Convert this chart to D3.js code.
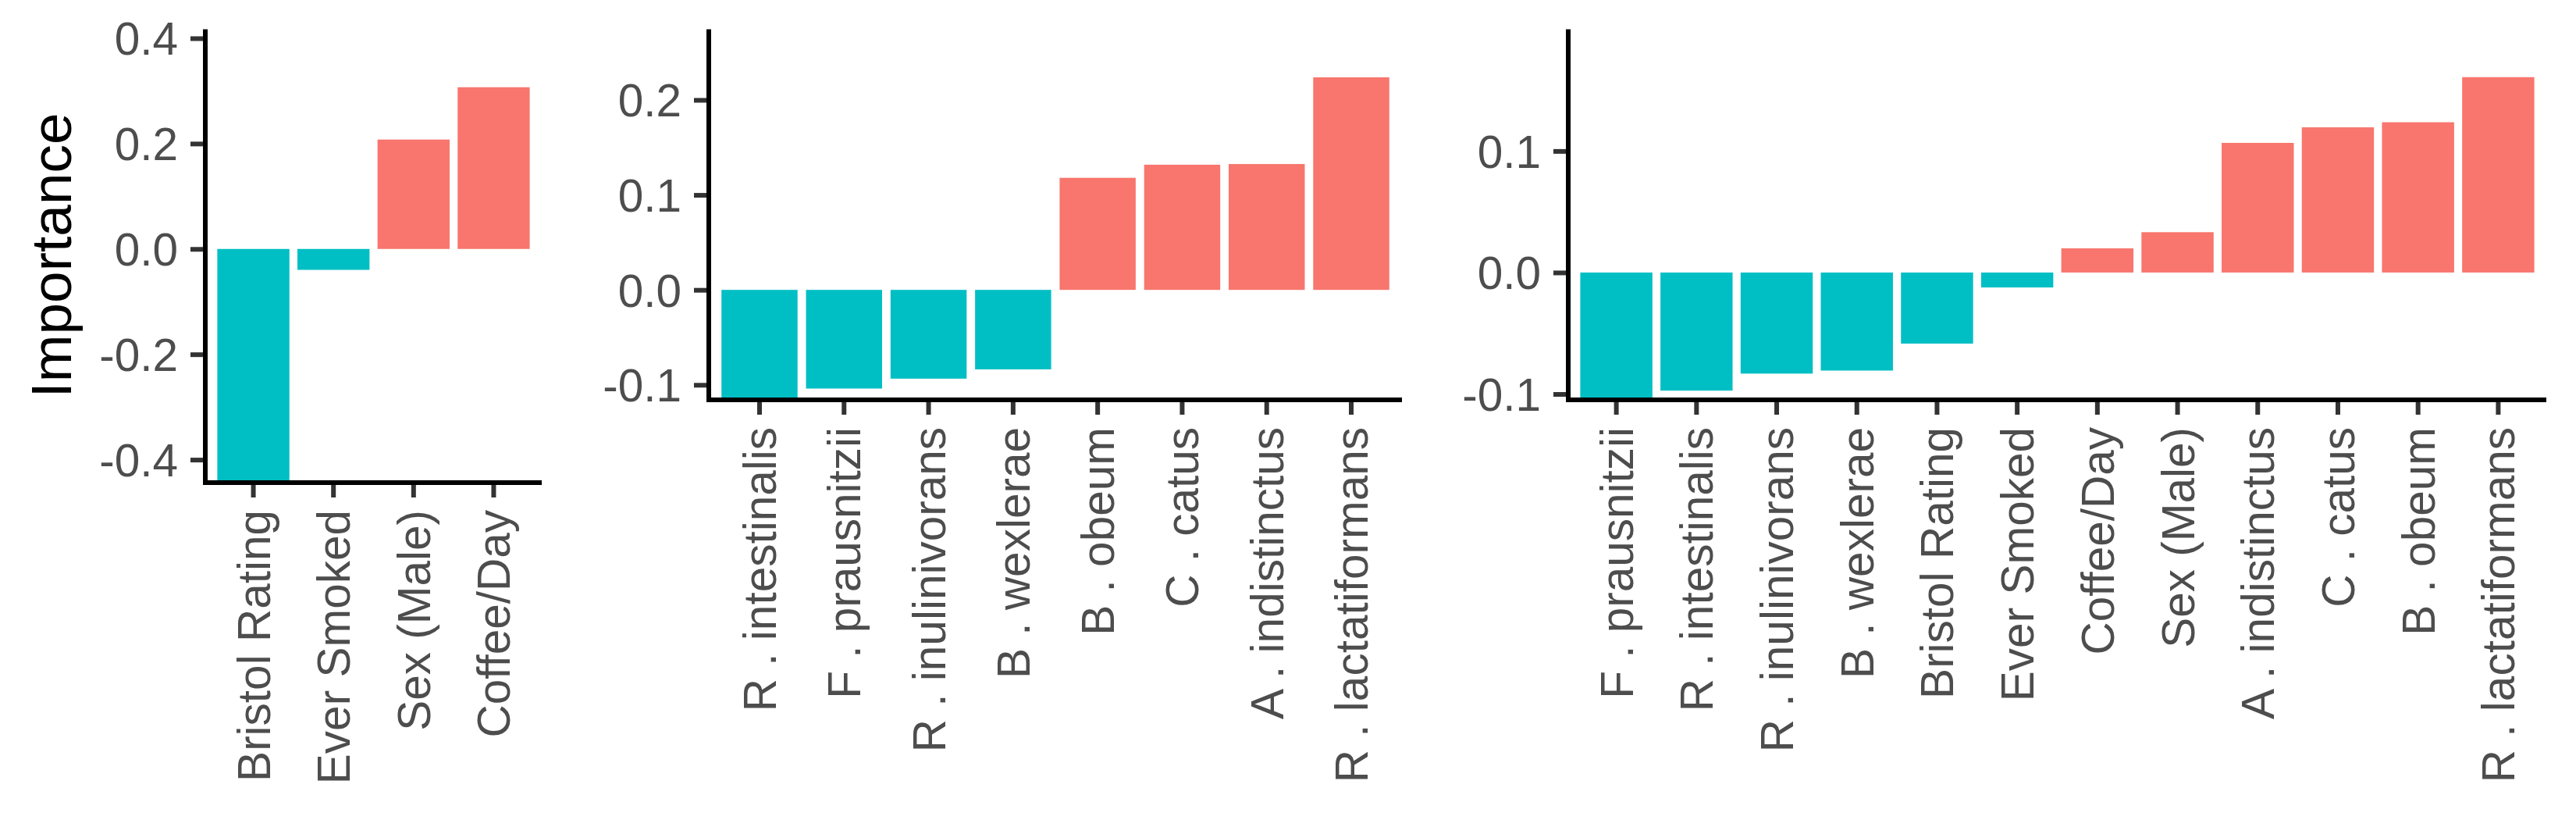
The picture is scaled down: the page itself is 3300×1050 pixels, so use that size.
<!DOCTYPE html>
<html>
<head>
<meta charset="utf-8">
<script src="https://cdn.jsdelivr.net/npm/d3@7/dist/d3.min.js"></script>
<style>
  html, body { margin: 0; padding: 0; background: #ffffff; }
  svg { display: block; }
</style>
</head>
<body>
<div id="chart"></div>
<script>
// ---------------- data ----------------
const p1Categories = ["Bristol Rating", "Ever Smoked", "Sex (Male)", "Coffee/Day"];
const p1Values = [-0.4436, -0.0397, 0.2077, 0.307];
const p1Domain = [-0.4436, 0.417];
const p1Ticks = [-0.4, -0.2, 0.0, 0.2, 0.4];

const p2Categories = ["R . intestinalis", "F . prausnitzii", "R . inulinivorans", "B . wexlerae",
  "B . obeum", "C . catus", "A . indistinctus", "R . lactatiformans"];
const p2Values = [-0.1158, -0.1039, -0.0935, -0.0837, 0.118, 0.1318, 0.1325, 0.2238];
const p2Domain = [-0.1158, 0.2744];
const p2Ticks = [-0.1, 0.0, 0.1, 0.2];

const p3Categories = ["F . prausnitzii", "R . intestinalis", "R . inulinivorans", "B . wexlerae",
  "Bristol Rating", "Ever Smoked", "Coffee/Day", "Sex (Male)", "A . indistinctus", "C . catus",
  "B . obeum", "R . lactatiformans"];
const p3Values = [-0.1048, -0.0972, -0.0832, -0.0807, -0.0585, -0.0123, 0.0199, 0.0332,
  0.1067, 0.1195, 0.1237, 0.1608];
const p3Domain = [-0.1048, 0.2002];
const p3Ticks = [-0.1, 0.0, 0.1];

const yTitle = "Importance";

// ---------------- layout / style ----------------
const W = 3300, H = 1050;
const POS = "#F8766D", NEG = "#00BFC4";
const FONT = "'Liberation Sans', Arial, Helvetica, sans-serif";
const TICK_FS = 58.5, TITLE_FS = 73;
const TICK_LEN = 19, TICK_PAD = 16;
const LINE_W = 6;

const panels = [
  { cats: p1Categories, vals: p1Values, domain: p1Domain, ticks: p1Ticks, x0: 263, x1: 694, y0: 37.5, y1: 618 },
  { cats: p2Categories, vals: p2Values, domain: p2Domain, ticks: p2Ticks, x0: 908, x1: 1796, y0: 37.5, y1: 512 },
  { cats: p3Categories, vals: p3Values, domain: p3Domain, ticks: p3Ticks, x0: 2009, x1: 3262, y0: 37.5, y1: 512 }
];

const svg = d3.select("#chart").append("svg")
  .attr("width", W).attr("height", H)
  .attr("viewBox", `0 0 ${W} ${H}`);

svg.append("rect").attr("width", W).attr("height", H).attr("fill", "#ffffff");

panels.forEach((p, pi) => {
  const g = svg.append("g").attr("class", "panel panel-" + (pi + 1));

  const x = d3.scaleBand()
    .domain(p.cats)
    .range([p.x0, p.x1])
    .paddingInner(0.1)
    .paddingOuter(0.15);

  const y = d3.scaleLinear()
    .domain(p.domain)
    .range([p.y1, p.y0])
    .clamp(true);

  // bars
  g.append("g").selectAll("rect")
    .data(p.cats.map((c, i) => ({ c, v: p.vals[i] })))
    .join("rect")
    .attr("x", d => x(d.c))
    .attr("width", x.bandwidth())
    .attr("y", d => Math.min(y(d.v), y(0)))
    .attr("height", d => Math.abs(y(d.v) - y(0)))
    .attr("fill", d => d.v >= 0 ? POS : NEG);

  // y axis ticks + labels
  const yAxis = d3.axisLeft(y)
    .tickValues(p.ticks)
    .tickFormat(d3.format(".1f"))
    .tickSize(TICK_LEN)
    .tickSizeOuter(0)
    .tickPadding(TICK_PAD);
  const ya = g.append("g").attr("transform", `translate(${p.x0},0)`).call(yAxis);
  ya.select(".domain").remove();
  ya.selectAll(".tick line").attr("stroke", "#333333").attr("stroke-width", LINE_W);
  ya.selectAll(".tick text")
    .attr("fill", "#4D4D4D")
    .attr("font-family", FONT)
    .attr("font-size", TICK_FS)
    .attr("dy", "0.358em")
    .text(d => d3.format(".1f")(d).replace("−", "-"));

  // x axis ticks + labels
  const xAxis = d3.axisBottom(x)
    .tickSize(TICK_LEN)
    .tickSizeOuter(0)
    .tickPadding(0);
  const xa = g.append("g").attr("transform", `translate(0,${p.y1})`).call(xAxis);
  xa.select(".domain").remove();
  xa.selectAll(".tick line").attr("stroke", "#333333").attr("stroke-width", LINE_W);
  xa.selectAll(".tick text")
    .attr("fill", "#4D4D4D")
    .attr("font-family", FONT)
    .attr("font-size", TICK_FS)
    .attr("text-anchor", "end")
    .attr("x", 0)
    .attr("y", 0)
    .attr("dy", "0.358em")
    .attr("transform", `translate(0,${TICK_LEN + TICK_PAD}) rotate(-90)`);

  // axis lines
  g.append("line")
    .attr("x1", p.x0).attr("x2", p.x0)
    .attr("y1", p.y0).attr("y2", p.y1 + LINE_W / 2)
    .attr("stroke", "#000000").attr("stroke-width", LINE_W);
  g.append("line")
    .attr("x1", p.x0 - LINE_W / 2).attr("x2", p.x1)
    .attr("y1", p.y1).attr("y2", p.y1)
    .attr("stroke", "#000000").attr("stroke-width", LINE_W);
});

// y title
svg.append("text")
  .attr("transform", `translate(91,327) rotate(-90)`)
  .attr("text-anchor", "middle")
  .attr("font-family", FONT)
  .attr("font-size", TITLE_FS)
  .attr("fill", "#000000")
  .text(yTitle);
</script>
</body>
</html>
